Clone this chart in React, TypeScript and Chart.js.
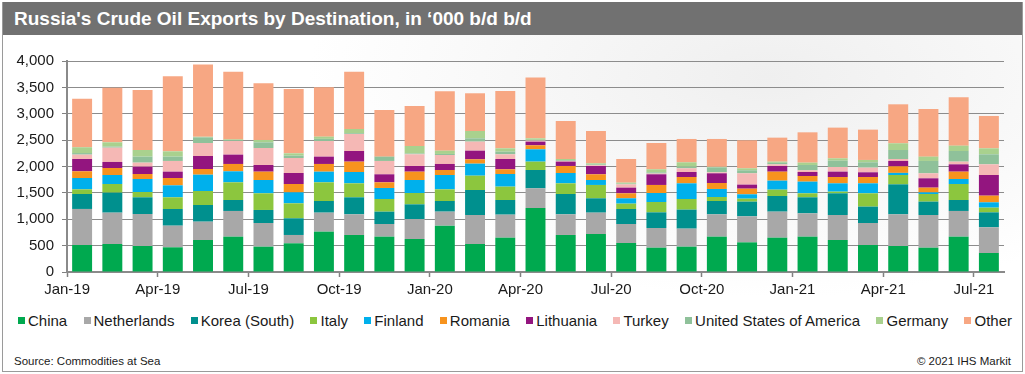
import React, { useEffect, useRef } from 'react';
import { Chart, registerables } from 'chart.js';

Chart.register(...registerables);

const months = [
  'Jan-19', 'Feb-19', 'Mar-19', 'Apr-19', 'May-19', 'Jun-19', 'Jul-19', 'Aug-19', 'Sep-19', 'Oct-19', 'Nov-19', 'Dec-19',
  'Jan-20', 'Feb-20', 'Mar-20', 'Apr-20', 'May-20', 'Jun-20', 'Jul-20', 'Aug-20', 'Sep-20', 'Oct-20', 'Nov-20', 'Dec-20',
  'Jan-21', 'Feb-21', 'Mar-21', 'Apr-21', 'May-21', 'Jun-21', 'Jul-21',
];

const china = [512, 531, 493, 468, 607, 670, 480, 544, 765, 702, 670, 626, 878, 531, 651, 1213, 702, 720, 550, 461, 480, 670, 562, 651, 670, 607, 512, 493, 461, 670, 360];
const netherlands = [683, 594, 607, 410, 347, 487, 449, 158, 360, 391, 240, 379, 266, 550, 436, 373, 391, 405, 360, 373, 342, 423, 493, 493, 442, 474, 417, 600, 620, 487, 487];
const korea = [284, 379, 316, 316, 316, 208, 247, 316, 221, 323, 234, 278, 202, 474, 278, 348, 386, 272, 284, 297, 360, 253, 279, 297, 304, 411, 310, 569, 253, 208, 284];
const italy = [88, 164, 101, 222, 266, 335, 316, 284, 354, 265, 240, 215, 221, 271, 253, 158, 202, 253, 102, 196, 202, 76, 56, 120, 76, 31, 253, 177, 145, 303, 89];
const finland = [215, 171, 246, 227, 309, 209, 252, 208, 202, 215, 209, 246, 272, 228, 240, 234, 196, 94, 101, 171, 297, 152, 83, 171, 221, 158, 189, 40, 30, 95, 101];
const romania = [127, 133, 95, 139, 108, 139, 158, 158, 146, 196, 107, 158, 95, 82, 89, 76, 133, 108, 95, 152, 120, 113, 107, 170, 107, 120, 120, 124, 90, 139, 126];
const lithuania = [233, 114, 139, 120, 246, 177, 127, 209, 139, 202, 152, 108, 114, 164, 195, 69, 82, 158, 107, 202, 95, 184, 76, 108, 76, 101, 89, 102, 177, 139, 392];
const turkey = [83, 271, 76, 203, 247, 259, 322, 284, 297, 322, 253, 221, 170, 171, 89, 20, 15, 15, 63, 15, 70, 20, 215, 31, 32, 89, 88, 37, 95, 51, 202];
const usa = [30, 20, 114, 82, 107, 15, 107, 45, 40, 15, 82, 15, 20, 63, 50, 15, 15, 15, 12, 23, 30, 93, 57, 30, 101, 120, 101, 171, 234, 202, 190];
const germany = [110, 82, 126, 101, 10, 15, 45, 44, 42, 80, 0, 143, 62, 139, 64, 28, 20, 20, 20, 57, 83, 10, 38, 21, 44, 44, 45, 127, 82, 101, 114];
const other = [920, 1036, 1138, 1422, 1372, 1284, 1074, 1220, 935, 1087, 885, 758, 1125, 715, 1087, 1151, 721, 613, 448, 499, 443, 528, 530, 455, 575, 582, 575, 739, 903, 917, 613];

const seriesNames = ['China', 'Netherlands', 'Korea (South)', 'Italy', 'Finland', 'Romania', 'Lithuania', 'Turkey', 'United States of America', 'Germany', 'Other'];
const seriesValues = [china, netherlands, korea, italy, finland, romania, lithuania, turkey, usa, germany, other];
const seriesColors = ['#00a94f', '#a8a8a8', '#00908e', '#8cc63e', '#00b0ec', '#f7931e', '#93157f', '#f5b8b5', '#8fc19a', '#a9d18e', '#f7a783'];

const yTicks = [0, 500, 1000, 1500, 2000, 2500, 3000, 3500, 4000];

const FONT = '"Liberation Sans", Arial, sans-serif';

export default function App() {
  const canvasRef = useRef<HTMLCanvasElement | null>(null);

  useEffect(() => {
    const canvas = canvasRef.current;
    if (!canvas) return;
    const chart = new Chart(canvas, {
      type: 'bar',
      data: {
        labels: months,
        datasets: seriesNames.map((name, i) => ({
          label: name,
          data: seriesValues[i],
          backgroundColor: seriesColors[i],
          borderWidth: 0,
          categoryPercentage: 1,
          barPercentage: 0.66,
        })),
      },
      options: {
        responsive: false,
        animation: false,
        devicePixelRatio: 1,
        layout: { padding: { left: 0, right: 21, top: 25, bottom: 0 } },
        plugins: {
          legend: { display: false },
          title: { display: false },
          tooltip: { enabled: false },
        },
        scales: {
          x: {
            stacked: true,
            offset: true,
            grid: {
              display: true,
              offset: true,
              drawOnChartArea: false,
              drawTicks: true,
              tickLength: 5,
              tickWidth: 1.5,
              tickColor: (ctx: any) => (ctx.index % 3 === 0 ? '#808080' : 'rgba(0,0,0,0)'),
            },
            border: { display: true, color: '#8a8a8a', width: 2 },
            ticks: {
              autoSkip: false,
              maxRotation: 0,
              minRotation: 0,
              padding: 4,
              labelOffset: -15,
              color: '#1a1a1a',
              font: { family: FONT, size: 15 },
              callback: (_v: any, index: number) => (index % 3 === 0 ? months[index] : ''),
            },
            afterFit: (scale: any) => {
              scale.height = 34;
              scale.paddingLeft = 0;
              scale.paddingRight = 0;
            },
          },
          y: {
            stacked: true,
            min: 0,
            max: 4000,
            afterBuildTicks: (scale: any) => {
              scale.ticks = yTicks.map((v) => ({ value: v }));
            },
            grid: {
              color: '#8c8c8c',
              lineWidth: 1,
              drawTicks: true,
              tickLength: 5,
              tickColor: '#808080',
            },
            border: { display: true, color: '#8a8a8a', width: 2 },
            ticks: {
              padding: 8,
              color: '#1a1a1a',
              font: { family: FONT, size: 15 },
              callback: (v: any) => Number(v).toLocaleString('en-US'),
            },
            afterFit: (scale: any) => {
              scale.width = 67;
              scale.paddingTop = 0;
              scale.paddingBottom = 0;
            },
          },
        },
      },
    });
    return () => chart.destroy();
  }, []);

  return (
    <div
      style={{
        position: 'fixed',
        left: 0,
        top: 0,
        width: 1025,
        height: 374,
        background: '#ffffff',
        fontFamily: FONT,
        overflow: 'hidden',
      }}
    >
      <div
        style={{
          position: 'absolute',
          left: 2,
          top: 2,
          width: 1019,
          height: 368,
          border: '1px solid #9a9a9a',
          background: 'radial-gradient(ellipse 45% 60% at 75% 20%, #efefef 0%, #ffffff 100%)',
        }}
      />
      <div
        style={{
          position: 'absolute',
          left: 3,
          top: 2,
          width: 1019,
          height: 33,
          background: '#717171',
          color: '#ffffff',
          fontWeight: 'bold',
          fontSize: 19,
          lineHeight: '33px',
          paddingLeft: 11,
          boxSizing: 'border-box',
          whiteSpace: 'nowrap',
        }}
      >
        Russia's Crude Oil Exports by Destination, in ‘000 b/d b/d
      </div>
      <canvas
        ref={canvasRef}
        width={1025}
        height={270}
        style={{ position: 'absolute', left: 0, top: 36, width: 1025, height: 270 }}
      />
      <div
        style={{
          position: 'absolute',
          left: 18,
          top: 311,
          width: 994,
          height: 18,
          display: 'flex',
          justifyContent: 'space-between',
          alignItems: 'center',
          fontSize: 15,
          color: '#1a1a1a',
          whiteSpace: 'nowrap',
        }}
      >
        {seriesNames.map((name, i) => (
          <div key={name} style={{ display: 'flex', alignItems: 'center' }}>
            <span
              style={{ display: 'inline-block', width: 7, height: 7, background: seriesColors[i], marginRight: 3 }}
            />
            <span>{name}</span>
          </div>
        ))}
      </div>
      <div style={{ position: 'absolute', left: 14, top: 355, fontSize: 11.5, color: '#1a1a1a' }}>
        Source: Commodities at Sea
      </div>
      <div style={{ position: 'absolute', right: 14, top: 355, fontSize: 11.5, color: '#1a1a1a' }}>
        © 2021 IHS Markit
      </div>
    </div>
  );
}
